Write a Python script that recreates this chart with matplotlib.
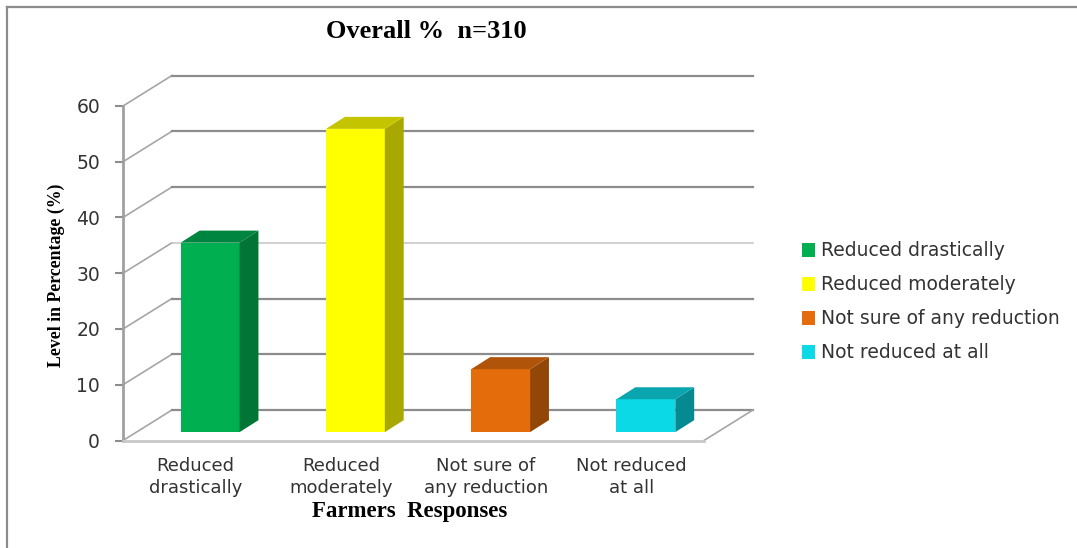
import matplotlib
matplotlib.use("Agg")
import matplotlib.pyplot as plt
from matplotlib.lines import Line2D
from matplotlib.patches import Polygon, Patch

# Survey results
categories = ["Reduced\ndrastically", "Reduced\nmoderately", "Not sure of\nany reduction", "Not reduced\nat all"]
legend_labels = ["Reduced drastically", "Reduced moderately", "Not sure of any reduction", "Not reduced at all"]
values = [34, 54.4, 11.3, 5.9]
y_ticks = [0, 10, 20, 30, 40, 50, 60]

front_colors = ["#00B050", "#FFFF00", "#E46C0A", "#0BD9E6"]
side_colors = ["#007535", "#A8A800", "#934706", "#068A92"]
top_colors = ["#008540", "#C4C400", "#AF5408", "#0AA5AE"]

W, H = 1077, 548
fig = plt.figure(figsize=(W / 100, H / 100), dpi=100, facecolor="white")
ax = fig.add_axes([123 / W, (H - 440.5) / H, 581 / W, 334.5 / H])
ax.set_xlim(0, 4)
ax.set_ylim(0, 60)
ax.patch.set_visible(False)

# Oblique projection of the 3D box, in data units
wall_dx, wall_dy = 0.337, 5.47
bar_dx, bar_dy = 0.13, 2.15
bar_shift_x, bar_shift_y = 0.10, 1.5
bar_width = 0.405
grid_color = "#8C8C8C"

# Back wall lines and their connections to the front axis
for v in y_ticks:
    light = v == 30
    ax.plot([0, wall_dx], [v, v + wall_dy], color="#A6A6A6", lw=1.2, clip_on=False, zorder=1)
    ax.plot([wall_dx, 4 + wall_dx], [v + wall_dy] * 2, color="#C4C4C4" if light else grid_color,
            lw=1.1 if light else 1.6, clip_on=False, zorder=1)
ax.plot([4, 4 + wall_dx], [0, wall_dy], color="#A6A6A6", lw=1.2, clip_on=False, zorder=1)

# Bars: front face plus projected side and top faces
for i, v in enumerate(values):
    x0 = i + 0.5 + bar_shift_x - bar_width / 2
    x1 = x0 + bar_width
    y0 = bar_shift_y
    y1 = v + bar_shift_y
    ax.bar(x0, v, width=bar_width, bottom=y0, align="edge", color=front_colors[i], zorder=3, clip_on=False)
    ax.add_patch(Polygon([(x1, y0), (x1 + bar_dx, y0 + bar_dy), (x1 + bar_dx, y1 + bar_dy), (x1, y1)],
                         closed=True, facecolor=side_colors[i], edgecolor="none", zorder=3, clip_on=False))
    ax.add_patch(Polygon([(x0, y1), (x0 + bar_dx, y1 + bar_dy), (x1 + bar_dx, y1 + bar_dy), (x1, y1)],
                         closed=True, facecolor=top_colors[i], edgecolor="none", zorder=3, clip_on=False))

# Axes
for side in ("top", "right"):
    ax.spines[side].set_visible(False)
ax.spines["left"].set_color("#A0A0A0")
ax.spines["left"].set_linewidth(2)
ax.spines["bottom"].set_color("#C8C8C8")
ax.spines["bottom"].set_linewidth(2)
ax.set_yticks(y_ticks)
ax.set_xticks([i + 0.5 for i in range(len(categories))])
ax.set_xticklabels(categories, fontsize=13, color="#333333", linespacing=1.25)
ax.tick_params(axis="y", length=6, width=1.5, color="#8C8C8C", labelsize=13.5, labelcolor="#333333", pad=10.5)
ax.tick_params(axis="x", length=0, pad=12)

# Titles
serif = ["Liberation Serif", "DejaVu Serif"]
fig.text(426 / W, 1 - 31 / H, "Overall %  n=310", family=serif, weight="bold", fontsize=19, ha="center", va="center")
fig.text(410 / W, 1 - 512 / H, "Farmers  Responses", family=serif, weight="bold", fontsize=16.5, ha="center", va="center")
fig.text(56 / W, 1 - 275 / H, "Level in Percentage (%)", family=serif, weight="bold", fontsize=12.8,
         rotation=90, ha="center", va="center")

# Legend
handles = [Patch(facecolor=c, edgecolor="none") for c in front_colors]
fig.legend(handles, legend_labels, loc="upper left", bbox_to_anchor=(802 / W, 1 - 241.5 / H), frameon=False,
           fontsize=13.5, labelcolor="#333333", handlelength=0.7, handleheight=0.7, handletextpad=0.33,
           labelspacing=0.8, borderpad=0, borderaxespad=0)

# Outer chart frame: left and top edges only
frame = dict(transform=fig.transFigure, color="#8C8C8C", lw=1.6)
fig.add_artist(Line2D([7 / W, 7 / W], [0, 1 - 7 / H], **frame))
fig.add_artist(Line2D([7 / W, 1], [1 - 7 / H, 1 - 7 / H], **frame))

fig.savefig("out.png", dpi=100)
